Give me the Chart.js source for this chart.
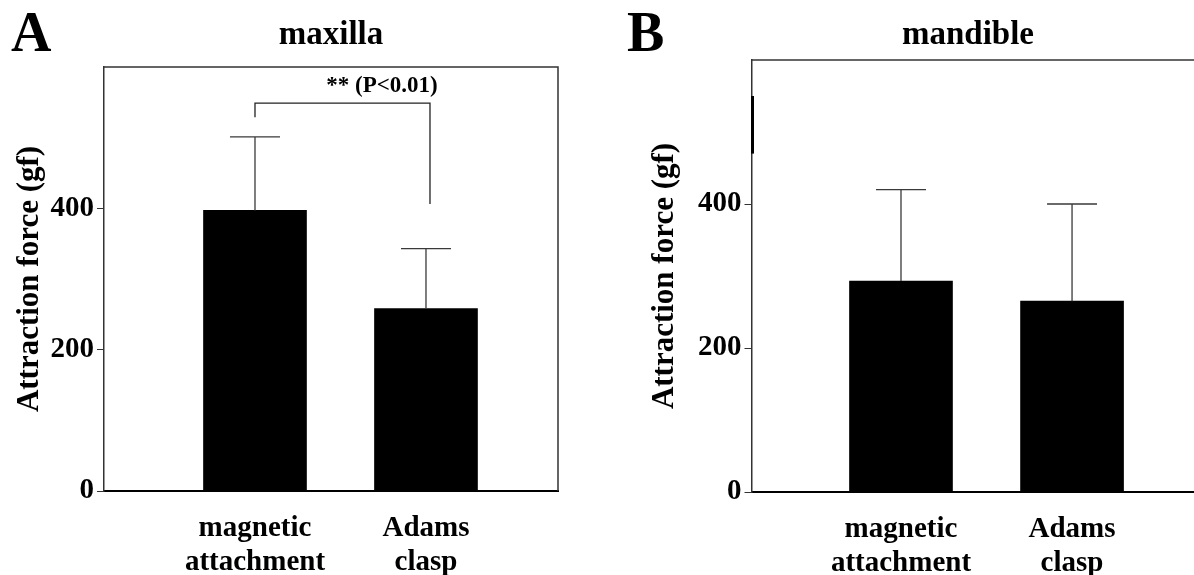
<!DOCTYPE html>
<html>
<head>
<meta charset="utf-8">
<script src="https://cdn.jsdelivr.net/npm/chart.js@4"></script>
<style>
  html, body { margin: 0; padding: 0; background: #fff; }
  body { width: 1194px; height: 575px; position: relative; overflow: hidden; }
  .panel { position: absolute; top: 0; width: 597px; height: 575px; }
  #panel-a { left: 0; }
  #panel-b { left: 597px; }
</style>
</head>
<body>
<div class="panel" id="panel-a"><canvas id="chart-maxilla"></canvas></div>
<div class="panel" id="panel-b"><canvas id="chart-mandible"></canvas></div>
<script>
const FONT = '"Liberation Serif", "Times New Roman", serif';

const categories = [['magnetic', 'attachment'], ['Adams', 'clasp']];
const categoryPos = [1, 2];
const yTicks = [0, 200, 400];

const maxillaMean = [397, 258];
const maxillaSD = [104, 85];
const mandibleMean = [293, 265];
const mandibleSD = [127, 135];

// significance bracket for maxilla (values in gf)
const bracketTop = 549;
const bracketLeftEnd = 529;
const bracketRightEnd = 406;
const bracketText = '** (P<0.01)';

const chartMaxilla = document.getElementById('chart-maxilla');
const chartMandible = document.getElementById('chart-mandible');

const errorBars = {
  id: 'errorBars',
  afterDatasetsDraw(chart, args, opts) {
    const ctx = chart.ctx;
    const x = chart.scales.x;
    const y = chart.scales.y;
    ctx.save();
    ctx.strokeStyle = '#3a3a3a';
    ctx.lineWidth = 1.3;
    opts.mean.forEach((m, i) => {
      const px = x.getPixelForValue(categoryPos[i]);
      const y0 = y.getPixelForValue(m);
      const y1 = y.getPixelForValue(m + opts.sd[i]);
      ctx.beginPath();
      ctx.moveTo(px, y0);
      ctx.lineTo(px, y1);
      ctx.moveTo(px - 25, y1);
      ctx.lineTo(px + 25, y1);
      ctx.stroke();
    });
    ctx.restore();
  }
};

const frame = {
  id: 'frame',
  afterDraw(chart, args, opts) {
    const ctx = chart.ctx;
    const a = chart.chartArea;
    const x = chart.scales.x;
    const y = chart.scales.y;
    ctx.save();
    ctx.strokeStyle = '#333';
    ctx.lineWidth = 1.5;
    ctx.beginPath();
    ctx.moveTo(a.left, a.top);
    ctx.lineTo(a.right, a.top);
    if (opts.right) ctx.lineTo(a.right, a.bottom);
    ctx.stroke();

    // darker stretch on the left axis (as in the scan)
    if (opts.axisMark) {
      ctx.strokeStyle = '#000';
      ctx.lineWidth = 3;
      ctx.beginPath();
      ctx.moveTo(a.left + 1, y.getPixelForValue(opts.axisMark[0]));
      ctx.lineTo(a.left + 1, y.getPixelForValue(opts.axisMark[1]));
      ctx.stroke();
    }

    ctx.fillStyle = '#000';
    ctx.textBaseline = 'alphabetic';
    ctx.textAlign = 'left';
    ctx.font = 'bold 56px ' + FONT;
    ctx.fillText(opts.letter, opts.letterX, 51);
    ctx.textAlign = 'center';
    ctx.font = 'bold 33px ' + FONT;
    ctx.fillText(opts.title, opts.titleX, 44);

    if (opts.bracket) {
      const xl = x.getPixelForValue(categoryPos[0]);
      const xr = x.getPixelForValue(categoryPos[1]) + 4;
      ctx.strokeStyle = '#222';
      ctx.lineWidth = 1.3;
      ctx.beginPath();
      ctx.moveTo(xl, y.getPixelForValue(bracketLeftEnd));
      ctx.lineTo(xl, y.getPixelForValue(bracketTop));
      ctx.lineTo(xr, y.getPixelForValue(bracketTop));
      ctx.lineTo(xr, y.getPixelForValue(bracketRightEnd));
      ctx.stroke();
      ctx.font = 'bold 23px ' + FONT;
      ctx.textBaseline = 'middle';
      ctx.fillText(bracketText, 382, 86);
    }
    ctx.restore();
  }
};

const makeChart = (canvas, mean, sd, o) => {
  return new Chart(canvas, {
    type: 'bar',
    data: {
      datasets: [{
        data: mean.map((v, i) => ({ x: categoryPos[i], y: v })),
        backgroundColor: '#000',
        borderWidth: 0,
        barThickness: 103
      }]
    },
    options: {
      responsive: true,
      maintainAspectRatio: false,
      animation: false,
      layout: { padding: { top: o.top, right: o.right, left: 0, bottom: 0 } },
      scales: {
        x: {
          type: 'linear',
          offset: false,
          bounds: 'data',
          min: o.xMin,
          max: o.xMax,
          afterBuildTicks: (scale) => { scale.ticks = categoryPos.map(v => ({ value: v })); },
          afterFit: (scale) => { scale.height = o.xHeight; },
          grid: { display: false, drawTicks: false, offset: false },
          border: { display: true, color: '#000', width: 2 },
          ticks: {
            padding: 21,
            color: '#000',
            font: { family: FONT, size: 29, weight: 'bold', lineHeight: 1.15 },
            callback: (v) => categories[categoryPos.indexOf(v)] || ''
          }
        },
        y: {
          min: 0,
          max: 600,
          afterBuildTicks: (scale) => { scale.ticks = yTicks.map(v => ({ value: v })); },
          afterFit: (scale) => { scale.width = o.yWidth; },
          grid: { drawOnChartArea: false, drawTicks: true, tickLength: 7, color: '#333' },
          border: { display: true, color: '#333', width: 1.5 },
          ticks: {
            padding: 3,
            color: '#000',
            font: { family: FONT, size: 29, weight: 'bold' }
          },
          title: {
            display: true,
            text: 'Attraction force (gf)',
            color: '#000',
            font: { family: FONT, size: 31, weight: 'bold' },
            padding: { top: o.titlePad, bottom: 0 }
          }
        }
      },
      plugins: {
        legend: { display: false },
        tooltip: { enabled: false },
        errorBars: { mean: mean, sd: sd },
        frame: o.frame
      }
    },
    plugins: [errorBars, frame]
  });
};

makeChart(chartMaxilla, maxillaMean, maxillaSD, {
  top: 67, right: 39, xHeight: 84, yWidth: 104, titlePad: 11,
  xMin: 0.117, xMax: 2.772,
  frame: { right: true, letter: 'A', letterX: 11, title: 'maxilla', titleX: 331, bracket: true }
});

makeChart(chartMandible, mandibleMean, mandibleSD, {
  top: 60, right: 0, xHeight: 83, yWidth: 154.5, titlePad: 49,
  xMin: 0.126, xMax: 2.713,
  frame: { right: false, letter: 'B', letterX: 30, title: 'mandible', titleX: 371, bracket: false, axisMark: [550, 470] }
});
</script>
</body>
</html>
